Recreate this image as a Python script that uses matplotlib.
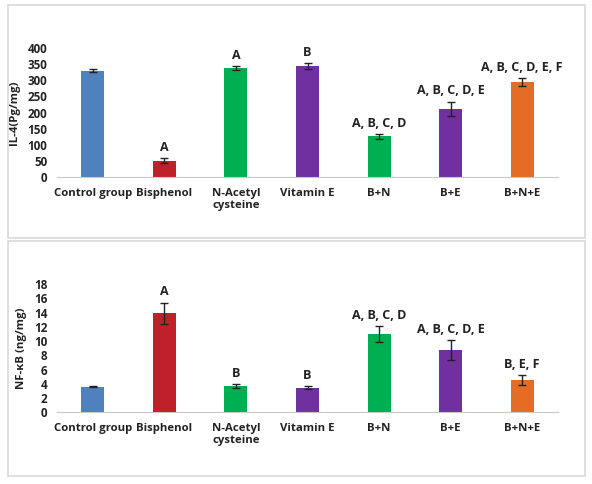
import matplotlib.pyplot as plt
from matplotlib.patches import Rectangle

plt.rcParams['font.family'] = ['Open Sans', 'DejaVu Sans']
plt.rcParams['font.weight'] = 'bold'

groups = ['Control group', 'Bisphenol', 'N-Acetyl\ncysteine', 'Vitamin E', 'B+N', 'B+E', 'B+N+E']
colors = ['#4F81BD', '#C0202A', '#00B050', '#7030A0', '#00B050', '#7030A0', '#E46C25']

il4 = [330, 50, 338, 343, 126, 211, 295]
il4_err = [5, 8, 5, 9, 8, 23, 12]
il4_letters = ['', 'A', 'A', 'B', 'A, B, C, D', 'A, B, C, D, E', 'A, B, C, D, E, F']

nfkb = [3.6, 13.9, 3.7, 3.45, 11.0, 8.7, 4.55]
nfkb_err = [0.1, 1.5, 0.3, 0.2, 1.1, 1.4, 0.7]
nfkb_letters = ['', 'A', 'B', 'B', 'A, B, C, D', 'A, B, C, D, E', 'B, E, F']

W, H = 592, 484
fig = plt.figure(figsize=(W / 100, H / 100), dpi=100)

# light gray frames around each panel
for y0, y1 in [(5, 238), (241, 476)]:
    fig.patches.append(Rectangle((8 / W, 1 - y1 / H), 577 / W, (y1 - y0) / H,
                                 transform=fig.transFigure, fill=False,
                                 edgecolor='#d9d9d9', linewidth=1.2))


def panel(rect, vals, errs, letters, ymax, step, ylabel):
    ax = fig.add_axes(rect)
    x = range(len(groups))
    ax.bar(x, vals, width=0.32, color=colors, zorder=2)
    ax.errorbar(x, vals, yerr=errs, fmt='none', ecolor='#222222',
                elinewidth=1, capsize=3, capthick=1, zorder=3)
    for i, lab in enumerate(letters):
        if lab:
            ax.annotate(lab, (i, vals[i] + errs[i]), xytext=(0, 3),
                        textcoords='offset points', ha='center', va='bottom',
                        fontsize=9, fontweight='bold', color='#222222',
                        annotation_clip=False)
    ax.set_xlim(-0.5, len(groups) - 0.5)
    ax.set_ylim(0, ymax)
    ax.set_yticks(range(0, ymax + 1, step))
    ax.set_xticks(list(x))
    ax.set_xticklabels(groups, fontsize=8.2, fontweight='bold', color='#222222',
                       linespacing=1.1)
    ax.tick_params(axis='both', length=0)
    ax.tick_params(axis='x', pad=8)
    ax.tick_params(axis='y', pad=7, labelsize=8.4)
    for t in ax.get_yticklabels():
        t.set_fontweight('bold')
        t.set_color('#222222')
    for s in ['top', 'right', 'left']:
        ax.spines[s].set_visible(False)
    ax.spines['bottom'].set_color('#c8c8c8')
    ax.set_ylabel(ylabel, fontsize=8.2, fontweight='bold', color='#222222', labelpad=5)
    ax.patch.set_alpha(0)
    return ax


panel([57 / W, 1 - 177 / H, 501 / W, 129 / H], il4, il4_err, il4_letters,
      400, 50, 'IL-4(Pg/mg)')
panel([57 / W, 1 - 412.3 / H, 501 / W, 128.3 / H], nfkb, nfkb_err, nfkb_letters,
      18, 2, 'NF-κB (ng/mg)')

fig.savefig('out.png', dpi=100)
